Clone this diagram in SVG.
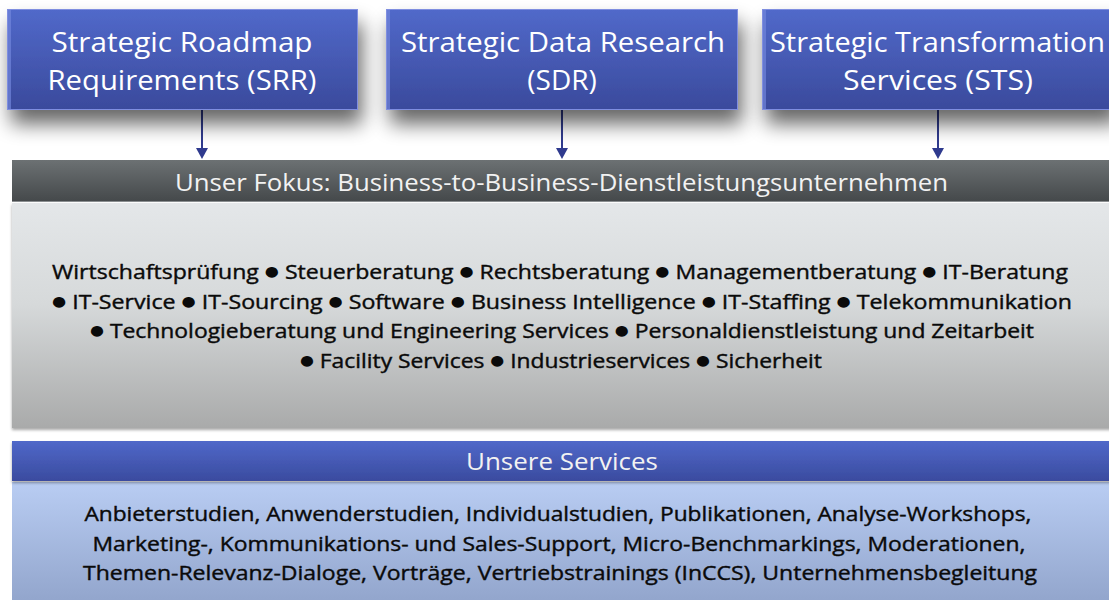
<svg xmlns="http://www.w3.org/2000/svg" width="1109" height="600" viewBox="0 0 1109 600">
<defs>
<linearGradient id="gTop" x1="0" y1="0" x2="0" y2="1">
<stop offset="0" stop-color="#5169ca"/>
<stop offset="1" stop-color="#3a4a9c"/>
</linearGradient>
<linearGradient id="gDark" x1="0" y1="0" x2="0" y2="1">
<stop offset="0" stop-color="#6c7173"/>
<stop offset="1" stop-color="#44484a"/>
</linearGradient>
<linearGradient id="gGray" x1="0" y1="0" x2="0" y2="1">
<stop offset="0" stop-color="#e4e7e9"/>
<stop offset="0.45" stop-color="#d6d9da"/>
<stop offset="1" stop-color="#a9aaaa"/>
</linearGradient>
<linearGradient id="gBlueHead" x1="0" y1="0" x2="0" y2="1">
<stop offset="0" stop-color="#5068c9"/>
<stop offset="1" stop-color="#3a4b9f"/>
</linearGradient>
<linearGradient id="gBlueBody" x1="0" y1="0" x2="0" y2="1">
<stop offset="0" stop-color="#b9cdf3"/>
<stop offset="1" stop-color="#92a5cc"/>
</linearGradient>
<filter id="shBig" x="-20%" y="-30%" width="140%" height="190%">
<feGaussianBlur in="SourceAlpha" stdDeviation="10"/>
<feOffset dx="4" dy="14" result="b"/>
<feComponentTransfer><feFuncA type="linear" slope="0.6"/></feComponentTransfer>
<feMerge><feMergeNode/><feMergeNode in="SourceGraphic"/></feMerge>
</filter>
<filter id="shSmall" x="-5%" y="-10%" width="110%" height="130%">
<feGaussianBlur in="SourceAlpha" stdDeviation="1.5"/>
<feOffset dx="0" dy="2" result="b"/>
<feComponentTransfer><feFuncA type="linear" slope="0.35"/></feComponentTransfer>
<feMerge><feMergeNode/><feMergeNode in="SourceGraphic"/></feMerge>
</filter>
<style>
.topbox{fill:url(#gTop);stroke:#7f8ee0;stroke-width:1}
.ttl{font-family:"Open Sans","Noto Sans","DejaVu Sans",sans-serif;font-size:28px;fill:#ffffff;text-anchor:middle}
.hdr{font-family:"Open Sans","Noto Sans","DejaVu Sans",sans-serif;font-size:24px;fill:#f2f2f2;text-anchor:middle}
.body{font-family:"Open Sans","Noto Sans","DejaVu Sans",sans-serif;font-size:20px;fill:#0a0a0a;stroke:#0a0a0a;stroke-width:0.4px;text-anchor:middle}
.b{font-family:"DejaVu Sans",sans-serif;font-size:14px;baseline-shift:3px;stroke:none}
.conn{stroke:#2f3a8e;stroke-width:2;fill:none}
.head{fill:#2f3a8e}
</style>
</defs>
<rect width="1109" height="600" fill="#ffffff"/>

<g id="connectors">
<line class="conn" x1="202" y1="109" x2="202" y2="150"/>
<path class="head" d="M196,148 L208,148 L202,159 Z"/>
<line class="conn" x1="562" y1="109" x2="562" y2="150"/>
<path class="head" d="M556,148 L568,148 L562,159 Z"/>
<line class="conn" x1="938" y1="109" x2="938" y2="150"/>
<path class="head" d="M932,148 L944,148 L938,159 Z"/>
</g>

<g id="srr">
<rect class="topbox" x="7.5" y="9.5" width="350" height="100" filter="url(#shBig)"/>
<rect x="8" y="10" width="3" height="99" fill="#7286dc" opacity="0.7"/>
<text class="ttl"><tspan x="182" y="52" textLength="261" lengthAdjust="spacingAndGlyphs">Strategic Roadmap</tspan><tspan x="182" y="90" textLength="269" lengthAdjust="spacingAndGlyphs">Requirements (SRR)</tspan></text>
</g>

<g id="sdr">
<rect class="topbox" x="386.5" y="9.5" width="351" height="100" filter="url(#shBig)"/>
<rect x="387" y="10" width="3" height="99" fill="#7286dc" opacity="0.7"/>
<text class="ttl"><tspan x="563" y="52" textLength="324" lengthAdjust="spacingAndGlyphs">Strategic Data Research</tspan><tspan x="562" y="90">(SDR)</tspan></text>
</g>

<g id="sts">
<rect class="topbox" x="762.5" y="9.5" width="352" height="100" filter="url(#shBig)"/>
<rect x="763" y="10" width="3" height="99" fill="#7286dc" opacity="0.7"/>
<text class="ttl"><tspan x="937.5" y="52" textLength="335" lengthAdjust="spacingAndGlyphs">Strategic Transformation</tspan><tspan x="938" y="90" textLength="190" lengthAdjust="spacingAndGlyphs">Services (STS)</tspan></text>
</g>

<g id="fokus">
<rect x="12" y="203" width="1100" height="225" fill="url(#gGray)" filter="url(#shSmall)"/>
<rect x="12" y="160" width="1100" height="42" fill="url(#gDark)"/>
<line x1="12" y1="201.5" x2="1109" y2="201.5" stroke="#8a8e90" stroke-width="1"/>
<text class="hdr" x="561.5" y="191" textLength="773" lengthAdjust="spacingAndGlyphs">Unser Fokus: Business-to-Business-Dienstleistungsunternehmen</text>
<text class="body" x="560" y="279" textLength="1016" lengthAdjust="spacingAndGlyphs">Wirtschaftsprüfung <tspan class="b">●</tspan> Steuerberatung <tspan class="b">●</tspan> Rechtsberatung <tspan class="b">●</tspan> Managementberatung <tspan class="b">●</tspan> IT-Beratung</text>
<text class="body" x="562" y="309" textLength="1020" lengthAdjust="spacingAndGlyphs"><tspan class="b">●</tspan> IT-Service <tspan class="b">●</tspan> IT-Sourcing <tspan class="b">●</tspan> Software <tspan class="b">●</tspan> Business Intelligence <tspan class="b">●</tspan> IT-Staffing <tspan class="b">●</tspan> Telekommunikation</text>
<text class="body" x="562" y="338" textLength="944" lengthAdjust="spacingAndGlyphs"><tspan class="b">●</tspan> Technologieberatung und Engineering Services <tspan class="b">●</tspan> Personaldienstleistung und Zeitarbeit</text>
<text class="body" x="561" y="368" textLength="522" lengthAdjust="spacingAndGlyphs"><tspan class="b">●</tspan> Facility Services <tspan class="b">●</tspan> Industrieservices <tspan class="b">●</tspan> Sicherheit</text>
</g>

<g id="services">
<rect x="12" y="482" width="1100" height="120" fill="url(#gBlueBody)"/>
<rect x="12" y="441" width="1100" height="40" fill="url(#gBlueHead)" filter="url(#shSmall)"/>
<text class="hdr" x="562" y="470" textLength="192" lengthAdjust="spacingAndGlyphs">Unsere Services</text>
<text class="body">
<tspan x="560.5" y="521" textLength="947" lengthAdjust="spacingAndGlyphs">Anbieterstudien, Anwenderstudien, Individualstudien, Publikationen, Analyse-Workshops,</tspan>
<tspan x="561.5" y="551" textLength="933" lengthAdjust="spacingAndGlyphs">Marketing-, Kommunikations- und Sales-Support, Micro-Benchmarkings, Moderationen,</tspan>
<tspan x="560" y="580" textLength="954" lengthAdjust="spacingAndGlyphs">Themen-Relevanz-Dialoge, Vorträge, Vertriebstrainings (InCCS), Unternehmensbegleitung</tspan>
</text>
</g>
</svg>
